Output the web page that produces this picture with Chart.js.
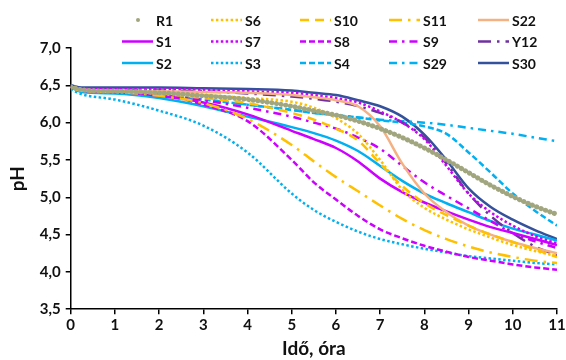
<!DOCTYPE html>
<html>
<head>
<meta charset="utf-8">
<script src="https://cdn.jsdelivr.net/npm/chart.js@4"></script>
<style>
  html, body { margin: 0; padding: 0; background: #fff; }
  #wrap { width: 566px; height: 360px; }
</style>
</head>
<body>
<div id="wrap"><canvas id="phChart"></canvas></div>
<script>
// Idő (óra) – shared x values of all series
var ora = [0, 0.25, 1, 2, 3, 4, 5, 5.5, 6, 6.5, 7, 7.5, 8, 8.5, 9, 9.5, 10, 10.5, 11];

// pH values
var R1  = [6.48, 6.44, 6.42, 6.40, 6.36, 6.31, 6.22, 6.16, 6.10, 6.02, 5.92, 5.80, 5.66, 5.50, 5.33, 5.16, 5.01, 4.88, 4.77];
var S6  = [6.48, 6.43, 6.42, 6.40, 6.37, 6.33, 6.28, 6.20, 6.06, 5.85, 5.50, 5.10, 4.86, 4.70, 4.57, 4.46, 4.36, 4.28, 4.21];
var S10 = [6.48, 6.43, 6.42, 6.39, 6.33, 6.26, 6.13, 6.04, 5.92, 5.76, 5.45, 5.15, 4.92, 4.76, 4.62, 4.50, 4.40, 4.30, 4.20];
var S11 = [6.48, 6.43, 6.41, 6.36, 6.26, 6.05, 5.70, 5.48, 5.27, 5.08, 4.89, 4.71, 4.56, 4.44, 4.34, 4.26, 4.20, 4.15, 4.12];
var S22 = [6.48, 6.44, 6.43, 6.42, 6.41, 6.40, 6.37, 6.34, 6.30, 6.22, 5.95, 5.45, 5.05, 4.80, 4.62, 4.50, 4.40, 4.32, 4.25];
var S1  = [6.48, 6.43, 6.41, 6.36, 6.27, 6.11, 5.89, 5.78, 5.66, 5.48, 5.25, 5.07, 4.93, 4.81, 4.70, 4.60, 4.52, 4.44, 4.36];
var S7  = [6.48, 6.46, 6.45, 6.45, 6.44, 6.42, 6.40, 6.37, 6.33, 6.27, 6.15, 6.00, 5.78, 5.42, 5.05, 4.80, 4.62, 4.48, 4.38];
var S8  = [6.48, 6.43, 6.41, 6.38, 6.24, 6.02, 5.50, 5.20, 4.97, 4.75, 4.57, 4.45, 4.35, 4.27, 4.20, 4.15, 4.10, 4.06, 4.03];
var S9  = [6.48, 6.43, 6.42, 6.38, 6.30, 6.20, 6.08, 6.00, 5.92, 5.80, 5.65, 5.42, 5.20, 5.02, 4.85, 4.68, 4.52, 4.41, 4.32];
var Y12 = [6.48, 6.45, 6.44, 6.43, 6.42, 6.39, 6.35, 6.32, 6.28, 6.22, 6.13, 6.00, 5.80, 5.45, 5.05, 4.75, 4.52, 4.34, 4.22];
var S2  = [6.48, 6.41, 6.39, 6.33, 6.22, 6.08, 5.94, 5.86, 5.76, 5.62, 5.42, 5.22, 5.05, 4.92, 4.80, 4.68, 4.58, 4.50, 4.42];
var S3  = [6.45, 6.38, 6.31, 6.16, 5.96, 5.60, 5.05, 4.83, 4.67, 4.54, 4.44, 4.37, 4.31, 4.26, 4.21, 4.18, 4.15, 4.12, 4.10];
var S4  = [6.48, 6.43, 6.41, 6.37, 6.31, 6.24, 6.17, 6.13, 6.10, 6.07, 6.03, 6.00, 5.95, 5.85, 5.60, 5.33, 5.05, 4.82, 4.62];
var S29 = [6.48, 6.43, 6.41, 6.37, 6.31, 6.24, 6.17, 6.13, 6.10, 6.07, 6.04, 6.02, 6.00, 5.97, 5.93, 5.89, 5.85, 5.80, 5.75];
var S30 = [6.50, 6.47, 6.47, 6.47, 6.46, 6.45, 6.43, 6.40, 6.37, 6.30, 6.22, 6.08, 5.84, 5.50, 5.12, 4.87, 4.70, 4.56, 4.44];

var yTicks = ["3,5", "4,0", "4,5", "5,0", "5,5", "6,0", "6,5", "7,0"];

var YELLOW = "#FFC000", SALMON = "#F4B183", MAGENTA = "#CC00FF",
    PURPLE = "#7030A0", CYAN = "#00B0F0", NAVY = "#34519C", GREY = "#A2A67E";

var DOT = [2.5, 2.4], DASH = [6, 3], LONGDASH = [9, 6],
    DASHDOT = [8, 5, 2.5, 5], LONGDASHDOT = [13, 6, 2.5, 6];

function serie(label, values, color, dash, width) {
    return {
        label: label,
        data: values.map(function (v, i) { return { x: ora[i], y: v }; }),
        borderColor: color,
        backgroundColor: color,
        borderWidth: width || 2.5,
        borderDash: dash || [],
        pointRadius: 0,
        fill: false,
        cubicInterpolationMode: "monotone"
    };
}

var r1 = serie("R1", R1, GREY, [0.1, 4.6], 5);
r1.borderCapStyle = "round";

// order = legend order (5 columns, row by row)
var datasets = [
    r1,
    serie("S6", S6, YELLOW, DOT),
    serie("S10", S10, YELLOW, LONGDASH),
    serie("S11", S11, YELLOW, LONGDASHDOT),
    serie("S22", S22, SALMON, []),
    serie("S1", S1, MAGENTA, []),
    serie("S7", S7, MAGENTA, DOT),
    serie("S8", S8, MAGENTA, DASH),
    serie("S9", S9, MAGENTA, DASHDOT),
    serie("Y12", Y12, PURPLE, LONGDASHDOT),
    serie("S2", S2, CYAN, []),
    serie("S3", S3, CYAN, DOT),
    serie("S4", S4, CYAN, DASH),
    serie("S29", S29, CYAN, DASHDOT),
    serie("S30", S30, NAVY, [])
];

// legend drawn like the Excel one: 5 fixed columns, 3 rows
var legendPlugin = {
    id: "gridLegend",
    afterDraw: function (chart) {
        var ctx = chart.ctx;
        ctx.save();
        ctx.font = "bold 14px Lato";
        ctx.textBaseline = "middle";
        chart.data.datasets.forEach(function (ds, i) {
            var x = 122 + 89 * (i % 5);
            var y = 20 + 21.5 * Math.floor(i / 5);
            if (ds.label === "R1") {
                ctx.fillStyle = ds.borderColor;
                ctx.beginPath();
                ctx.arc(x + 16, y, 2, 0, Math.PI * 2);
                ctx.fill();
            } else {
                ctx.strokeStyle = ds.borderColor;
                ctx.lineWidth = ds.borderWidth;
                ctx.setLineDash(ds.borderDash);
                ctx.beginPath();
                ctx.moveTo(x, y);
                ctx.lineTo(x + 31, y);
                ctx.stroke();
                ctx.setLineDash([]);
            }
            ctx.fillStyle = "#111";
            ctx.fillText(ds.label, x + 34, y + 1);
        });
        ctx.restore();
    }
};

new Chart(document.getElementById("phChart"), {
    type: "line",
    data: { datasets: datasets },
    options: {
        responsive: true,
        maintainAspectRatio: false,
        animation: false,
        layout: { padding: { top: 48, right: 0, left: 6, bottom: 0 } },
        plugins: { legend: { display: false }, tooltip: { enabled: false } },
        scales: {
            x: {
                type: "linear",
                min: 0,
                max: 11,
                afterFit: function (scale) { scale.paddingRight = 9; },
                ticks: { stepSize: 1, color: "#111", font: { family: "Lato", size: 15, weight: "bold" }, padding: 2 },
                grid: { drawOnChartArea: false, drawTicks: true, tickLength: 5, color: "#000", lineWidth: 1.5 },
                border: { color: "#000", width: 1.5 },
                title: { display: true, text: "Idő, óra", color: "#111", font: { family: "Lato", size: 19, weight: "bold" }, padding: { top: 1, bottom: 0 } }
            },
            y: {
                min: 3.5,
                max: 7,
                ticks: {
                    stepSize: 0.5,
                    color: "#111",
                    font: { family: "Lato", size: 15, weight: "bold" },
                    padding: 5,
                    callback: function (v, i) { return yTicks[i]; }
                },
                grid: { drawOnChartArea: false, drawTicks: true, tickLength: 5, color: "#000", lineWidth: 1.5 },
                border: { color: "#000", width: 1.5 },
                title: { display: true, text: "pH", color: "#111", font: { family: "Lato", size: 19, weight: "bold" }, padding: { top: 0, bottom: 6 } }
            }
        }
    },
    plugins: [legendPlugin]
});
</script>
</body>
</html>
